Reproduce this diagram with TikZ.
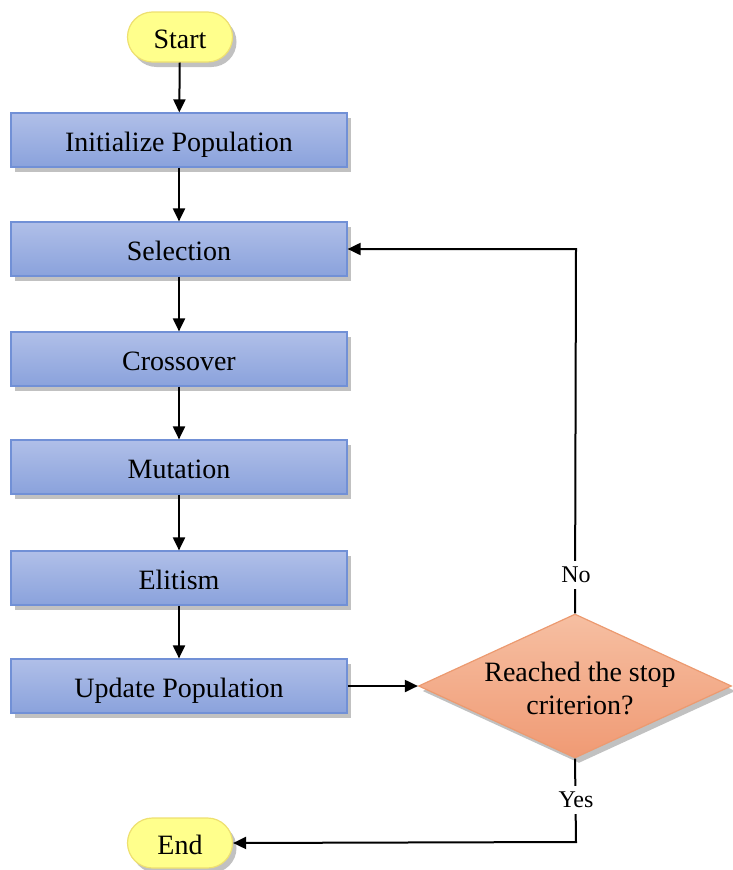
\documentclass[tikz,border=0pt]{standalone}
\usepackage{fontspec}
\setmainfont{Liberation Serif}
\usetikzlibrary{shapes.geometric,shapes.misc,arrows.meta,shadows}
\definecolor{boxtop}{HTML}{B0BFE8}
\definecolor{boxbot}{HTML}{8AA2DC}
\definecolor{boxline}{HTML}{7190D6}
\definecolor{termfill}{HTML}{FFFF8C}
\definecolor{termline}{HTML}{EEE070}
\definecolor{diatop}{HTML}{F6BFA2}
\definecolor{diabot}{HTML}{F09A74}
\definecolor{dialine}{HTML}{EC9A70}
\begin{document}
\begin{tikzpicture}[x=1pt,y=-1pt,
  shadowed/.style={drop shadow={shadow xshift=4pt,shadow yshift=-5pt,opacity=0.35,fill=black!70}},
  procbox/.style={rectangle,draw=boxline,line width=1.2pt,top color=boxtop,bottom color=boxbot,
    minimum width=336pt,minimum height=54pt,inner sep=0pt,text height=26pt,text depth=4pt,
    font=\fontsize{28}{33}\selectfont,shadowed},
  term/.style={rounded rectangle,draw=termline,line width=1.2pt,fill=termfill,
    minimum width=105pt,minimum height=50pt,inner sep=0pt,text height=26pt,text depth=4pt,
    font=\fontsize{28}{33}\selectfont,shadowed},
  decision/.style={diamond,draw=dialine,line width=1.2pt,top color=diatop,bottom color=diabot,
    minimum width=313pt,minimum height=144pt,inner sep=0pt,shadowed},
  dectext/.style={align=center,inner sep=0pt,font=\fontsize{28}{33}\selectfont},
  lbl/.style={fill=white,inner sep=6pt,font=\fontsize{24}{28}\selectfont},
  conn/.style={line width=2pt,-{Triangle[width=12pt,length=13pt]}}
]
\useasboundingbox (0,0) rectangle (732,870);
\node[term] (start) at (180,37) {Start};
\node[procbox] (init) at (179,140) {Initialize Population};
\node[procbox] (sel) at (179,249) {Selection};
\node[procbox] (cross) at (179,359) {Crossover};
\node[procbox] (mut) at (179,467) {Mutation};
\node[procbox] (elit) at (179,578) {Elitism};
\node[procbox] (upd) at (179,686) {Update Population};
\node[decision] (dec) at (575,686) {};
\node[dectext] (dectxt) at (580,688) {Reached the stop\\criterion?};
\node[term] (end) at (180,843) {End};
\coordinate (noturn) at (576,249);
\coordinate (yesturn) at (576,842);

\draw[conn] (start) -- (init);
\draw[conn] (init) -- (sel);
\draw[conn] (sel) -- (cross);
\draw[conn] (cross) -- (mut);
\draw[conn] (mut) -- (elit);
\draw[conn] (elit) -- (upd);
\draw[conn] (upd) -- (dec);
\draw[conn] (dec.north) -- (noturn) -- (sel.east);
\draw[conn] (dec.south) -- (yesturn) -- (end.east);
\node[lbl] (no) at (576,575) {No};
\node[lbl] (yes) at (576,800) {Yes};
\end{tikzpicture}
\end{document}
